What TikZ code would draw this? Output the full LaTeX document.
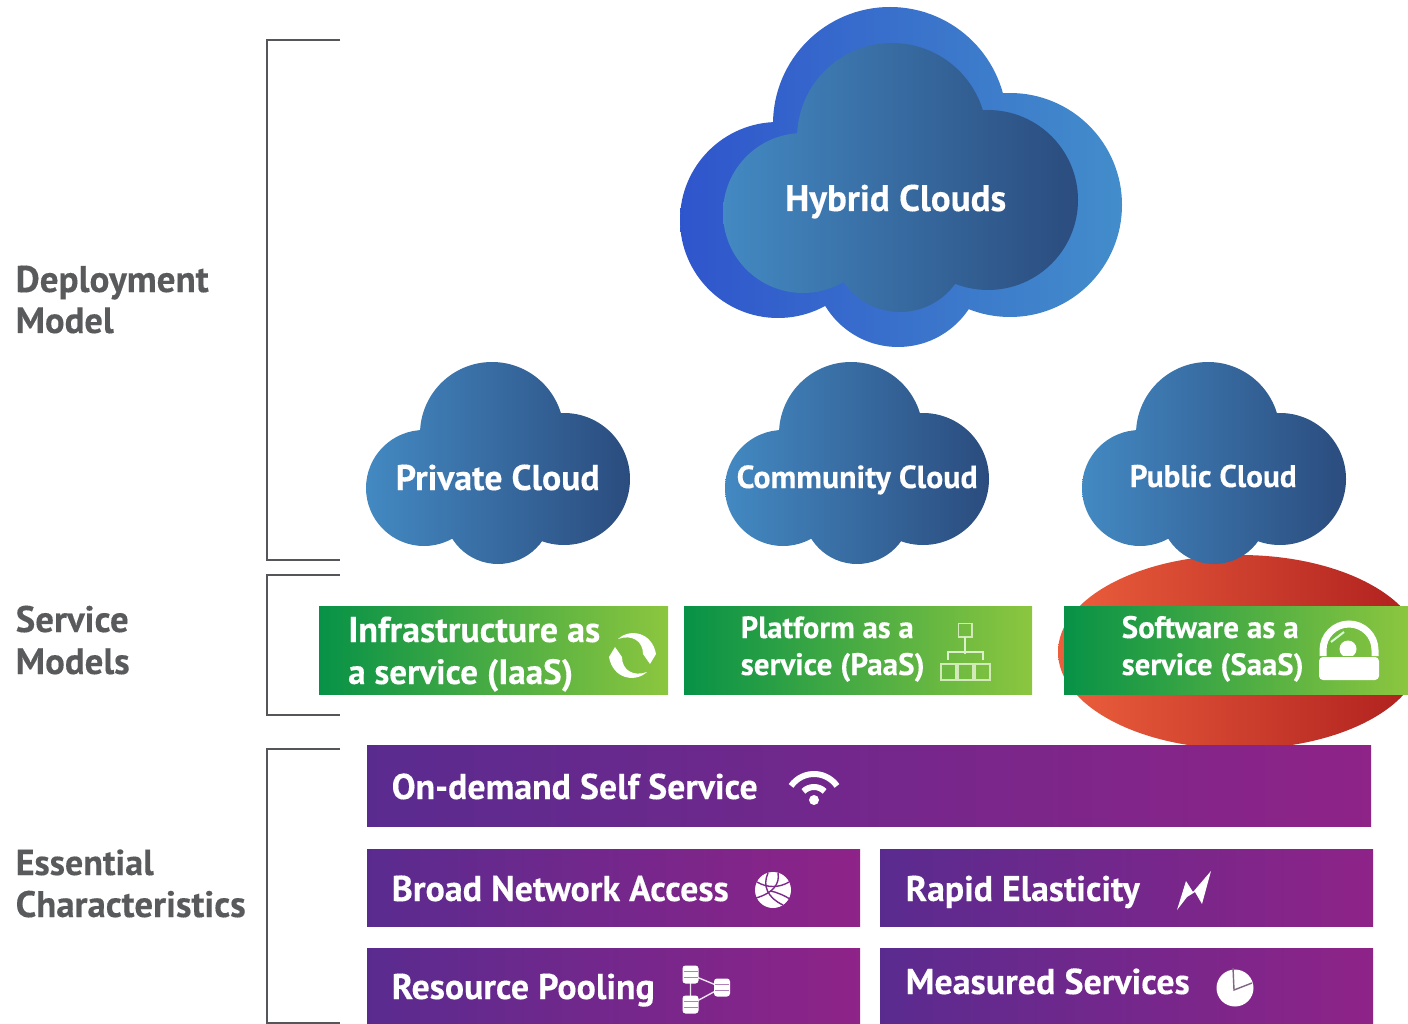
\documentclass[tikz,border=0pt]{standalone}
\usepackage{fontspec}
\usepackage{graphicx}
\setmainfont[BoldFeatures={FakeBold=0.25}]{PT Sans}
\definecolor{cloudL}{HTML}{4389C2}
\definecolor{cloudR}{HTML}{2B4C7E}
\definecolor{hybL}{HTML}{2F55CC}
\definecolor{hybR}{HTML}{438DCB}
\definecolor{redL}{HTML}{EC5F3C}
\definecolor{redR}{HTML}{AE1F1E}
\definecolor{grnL}{HTML}{079247}
\definecolor{grnR}{HTML}{8CC63F}
\definecolor{purL}{HTML}{5A2B8F}
\definecolor{purM}{HTML}{7D2A8C}
\definecolor{purR}{HTML}{8E2388}
\definecolor{lblgrey}{HTML}{595A5C}
\definecolor{brk}{HTML}{55565A}
\definecolor{paleg}{HTML}{DDF0CC}
\tikzset{
  wtext/.style={anchor=base west,inner sep=0pt,text=white,font=\bfseries},
  gtext/.style={anchor=base west,inner sep=0pt,text=lblgrey,font=\bfseries},
  smallcloud/.style={left color=cloudL,right color=cloudR},
  greenbox/.style={left color=grnL,right color=grnR},
  purplebox/.style={left color=purL,middle color=purM,right color=purR},
  bracket/.style={draw=brk,line width=1.1pt},
  pics/minicloud/.style={code={
    \path[smallcloud] (424,488) circle[radius=58] (492,434) circle[radius=72]
      (564,479) circle[radius=66] (498,510) circle[radius=54] (490,480) circle[radius=60];
  }}
}
\newcommand{\lbl}[6]{\node[#1] (#2) at (#3,#4) {\fontsize{36pt}{36pt}\selectfont\resizebox{#5pt}{!}{\bfseries #6}};}
\begin{document}
\begin{tikzpicture}[x=1pt,y=-1pt]
\useasboundingbox (0,0) rectangle (1408,1024);
% brackets
\draw[bracket] (340,40) -- (267,40) -- (267,560) -- (340,560);
\draw[bracket] (340,575) -- (267,575) -- (267,715) -- (340,715);
\draw[bracket] (340,749) -- (267,749) -- (267,1023) -- (340,1023);
% hybrid cloud
\path[left color=hybL,right color=hybR] (778,220) circle[radius=98] (890,124) circle[radius=117]
  (1010,205) circle[radius=112] (898,262) circle[radius=85] (890,210) circle[radius=100];
\path[left color=cloudL,right color=cloudR] (803,213) circle[radius=80] (892,138) circle[radius=95]
  (988,200) circle[radius=90] (900,244) circle[radius=68] (890,200) circle[radius=80];
% red ellipse
\begin{scope}
\clip (0,0) rectangle (1408,1024);
\path[left color=redL,right color=redR] (1240,652) ellipse[x radius=182,y radius=97];
\end{scope}
% small clouds
\pic at (0,0) {minicloud};
\pic at (359,0) {minicloud};
\pic at (716,0) {minicloud};
% green boxes
\path[greenbox] (319,606) rectangle (668,694);
\path[greenbox] (684,606) rectangle (1032,694);
\path[greenbox] (1064,606) rectangle (1408,694);
% purple boxes
\path[purplebox] (367,745) rectangle (1371,826);
\path[purplebox] (367,849) rectangle (860,926);
\path[purplebox] (880,849) rectangle (1373,926);
\path[purplebox] (367,948) rectangle (860,1024);
\path[purplebox] (880,948) rectangle (1373,1024);
% texts
\lbl{wtext}{hybrid}{785}{211}{221}{Hybrid Clouds}
\lbl{wtext}{private}{395.5}{490}{204}{Private Cloud}
\lbl{wtext}{community}{736.5}{488}{241}{Community Cloud}
\lbl{wtext}{public}{1129.5}{487}{167}{Public Cloud}
\lbl{wtext}{iaasA}{348}{642}{252}{Infrastructure as}
\lbl{wtext}{iaasB}{348}{684}{225}{a service (IaaS)}
\lbl{wtext}{paasA}{740.5}{638}{173}{Platform as a}
\lbl{wtext}{paasB}{740.5}{675}{184}{service (PaaS)}
\lbl{wtext}{saasA}{1121.5}{638}{177}{Software as a}
\lbl{wtext}{saasB}{1121.5}{675}{182}{service (SaaS)}
\lbl{wtext}{ondemand}{391.5}{799}{366}{On-demand Self Service}
\lbl{wtext}{broad}{391.5}{901}{337}{Broad Network Access}
\lbl{wtext}{rapid}{905.5}{901}{234}{Rapid Elasticity}
\lbl{wtext}{pool}{391.5}{999}{263}{Resource Pooling}
\lbl{wtext}{measured}{905.5}{994}{284}{Measured Services}
\lbl{gtext}{deployA}{15.5}{292}{193}{Deployment}
\lbl{gtext}{deployB}{15.5}{333}{98}{Model}
\lbl{gtext}{serviceA}{15.5}{632}{113}{Service}
\lbl{gtext}{serviceB}{15.5}{674}{114}{Models}
\lbl{gtext}{essA}{15.5}{875}{138}{Essential}
\lbl{gtext}{essB}{15.5}{917}{230}{Characteristics}
% refresh icon: two crescents
\fill[white] (618,639) .. controls (630,628) and (652,632) .. (656,654)
  -- (650,664) -- (643,654) .. controls (643,641) and (632,634) .. (618,639) -- cycle;
\fill[white] (647,672) .. controls (635,683) and (613,679) .. (609,657)
  -- (615,647) -- (622,657) .. controls (622,670) and (633,677) .. (647,672) -- cycle;
% org chart icon
\begin{scope}[line width=1.1pt]
\draw[paleg!85!grnR] (958.5,623.5) rectangle (972,637);
\draw[paleg!85!grnR] (941,664) rectangle (956,680);
\draw[paleg!85!grnR] (958,664) rectangle (973,680);
\draw[paleg!85!grnR] (975,664) rectangle (990,680);
\draw[paleg,line width=2pt] (965,637) -- (965,654) (948,660) -- (948,652) -- (983,652) -- (983,660);
\end{scope}
% lock / dome icon
\draw[white,line width=7pt] (1323,656) -- (1323,650) arc[start angle=180,end angle=360,radius=26] -- (1375,656);
\fill[white,rounded corners=4pt] (1319,657) -- (1379,657) -- (1379,680) -- (1319,680) -- cycle;
\begin{scope}
\clip (1330,630) rectangle (1370,655);
\fill[white] (1348,649) circle[radius=8.5];
\end{scope}
\draw[white!85!green,line width=2pt] (1331,642) -- (1344,632);
% wifi
\fill[white] (814,800) circle[radius=5];
\draw[white,line width=6pt] (814,802) ++(225:15) arc[start angle=225,end angle=315,radius=15];
\draw[white,line width=6pt] (814,802) ++(215:28) arc[start angle=215,end angle=325,radius=28];
% globe
\fill[white] (773,890) circle[radius=18];
\begin{scope}[line width=1.4pt]
\draw[purM] (757,882) .. controls (767,888) and (779,888) .. (789,882);
\draw[purM] (768,873) .. controls (762,886) and (768,898) .. (783,905);
\draw[purM] (778,873) .. controls (780,884) and (773,893) .. (756,898);
\draw[purM] (770,891) .. controls (777,892) and (785,896) .. (790,899);
\end{scope}
% lightning
\fill[white] (1177,910) -- (1186,881) -- (1193,892) -- (1211,871) -- (1202,904) -- (1195,892) -- (1187,897) -- cycle;
% db network
\draw[white!85!purM,line width=1.4pt] (690.5,974.5) -- (722,987.5) -- (690.5,1004.5) -- cycle;
\foreach \cx/\cy in {690.5/974.5,722/987.5,690.5/1004.5}{
  \fill[white,rounded corners=3pt] (\cx-8,\cy-9) rectangle (\cx+8,\cy+9);
  \draw[purM!60!white,line width=.8pt] (\cx-7,\cy-3) -- (\cx+7,\cy-3) (\cx-7,\cy+3) -- (\cx+7,\cy+3);
}
% pie
\fill[white] (1235,988) circle[radius=18.5];
\draw[gray!70!purM,line width=1.4pt] (1252,983) -- (1234,990) -- (1233,968);
\end{tikzpicture}
\end{document}
